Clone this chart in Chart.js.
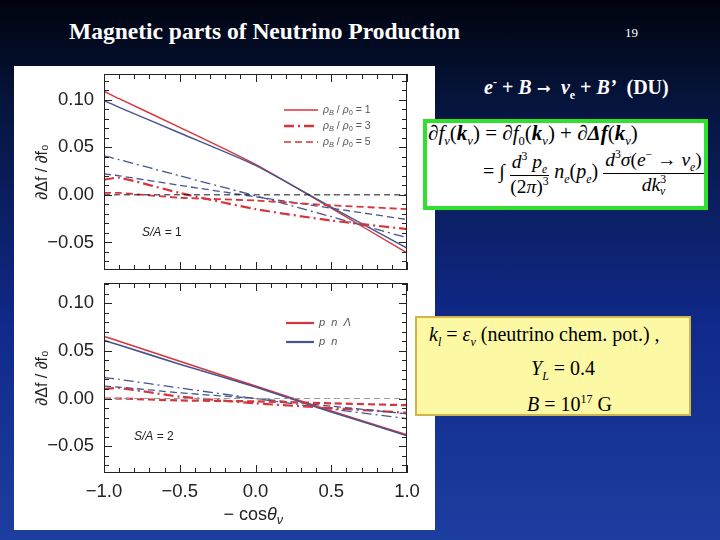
<!DOCTYPE html>
<html>
<head>
<meta charset="utf-8">
<script src="https://cdn.jsdelivr.net/npm/chart.js@4"></script>
<style>
  html, body { margin: 0; padding: 0; }
  body {
    width: 720px; height: 540px; overflow: hidden; position: relative;
    background: linear-gradient(to bottom, #01040f 0%, #06153f 20%, #10298a 60%, #1c3ea0 100%);
    font-family: "Liberation Serif", "Times New Roman", serif;
  }
  .abs { position: absolute; }
  #panel { left: 14px; top: 66px; width: 421px; height: 464px; background: #fff; }
  #cTop { left: 14px; top: 66px; }
  #cBot { left: 14px; top: 280px; }
  #title { left: 69px; top: 18px; color: #fff; font-size: 23.5px; font-weight: bold; white-space: nowrap; }
  #page { left: 625px; top: 25px; color: #fff; font-size: 13px; }
  #react { left: 484px; top: 75px; color: #fff; font-size: 20px; font-weight: bold; white-space: nowrap; }
  #greenBox { left: 423px; top: 119px; width: 277px; height: 83px; border: 4px solid #2fe02f; background: #fff; }
  #yellowBox { left: 415px; top: 316px; width: 272px; height: 96px; border: 2px solid #d2b548; background: #fcf8a4; }
  .eq { position: absolute; white-space: nowrap; color: #000; font-size: 20px; }
  .frac { display: inline-flex; flex-direction: column; align-items: center; vertical-align: middle; font-size: 19.5px; line-height: 1.0; }
  .frac .num { border-bottom: 1px solid #000; padding: 0 2px; }
  i { font-style: italic; }
  sub, sup { font-size: 60%; }
</style>
</head>
<body>
<div id="panel" class="abs"></div>
<canvas id="cTop" class="abs" width="421" height="206"></canvas>
<canvas id="cBot" class="abs" width="421" height="250"></canvas>

<div id="title" class="abs">Magnetic parts of Neutrino Production</div>
<div id="page" class="abs">19</div>
<div id="react" class="abs"><i>e</i><sup>-</sup> + <i>B</i> <span style="font-family:'DejaVu Sans';font-size:17px">➞</span>&nbsp; <i>ν</i><sub>e</sub> + <i>B’</i>&nbsp; (DU)</div>

<div id="greenBox" class="abs">
  <div class="eq" style="left:1px;top:-2px;font-size:21px;">∂<i>f</i><sub><i>ν</i></sub>(<b><i>k</i></b><sub><i>ν</i></sub>) = ∂<i>f</i><sub>0</sub>(<b><i>k</i></b><sub><i>ν</i></sub>) + ∂<b><i>Δf</i></b>(<b><i>k</i></b><sub><i>ν</i></sub>)</div>
  <div class="eq" style="left:56px;top:26px;">= ∫
    <span class="frac"><span class="num"><i>d</i><sup>3</sup> <i>p<sub>e</sub></i></span><span>(2<i>π</i>)<sup>3</sup></span></span>
    <i>n<sub>e</sub></i>(<i>p<sub>e</sub></i>)
    <span class="frac"><span class="num"><i>d</i><sup>3</sup><i>σ</i>(<i>e</i><sup>−</sup> → <i>ν<sub>e</sub></i>)</span><span><i>dk</i><sup>3</sup><sub style="margin-left:-6px"><i>ν</i></sub></span></span>
  </div>
</div>

<div id="yellowBox" class="abs">
  <div class="eq" style="left:12px;top:5px;"><i>k<sub>l</sub></i> = <i>ε<sub>ν</sub></i> (neutrino chem. pot.) ,</div>
  <div class="eq" style="left:114px;top:39px;"><i>Y<sub>L</sub></i> = 0.4</div>
  <div class="eq" style="left:110px;top:74px;"><i>B</i> = 10<sup>17</sup> G</div>
</div>

<script>
// x grid shared by all curves (- cos theta_nu)
const xs = [-1, -0.9, -0.5, 0, 0.5, 1];

// S/A = 1 panel
const redRho1 = [0.109, 0.101, 0.071, 0.032, -0.014, -0.061];
const blueRho1 = [0.099, 0.092, 0.065, 0.031, -0.013, -0.056];
const redRho3 = [0.016, 0.018, 0.002, -0.015, -0.027, -0.036];
const blueRho3 = [0.041, 0.037, 0.020, -0.001, -0.023, -0.045];
const redRho5 = [0.002, 0.002, -0.003, -0.006, -0.011, -0.015];
const blueRho5 = [0.022, 0.020, 0.010, -0.002, -0.014, -0.026];

// S/A = 2 panel
const redRho1b = [0.065, 0.060, 0.039, 0.013, -0.013, -0.038];
const blueRho1b = [0.061, 0.056, 0.036, 0.012, -0.014, -0.039];
const redRho3b = [0.010, 0.011, 0.002, -0.005, -0.010, -0.015];
const blueRho3b = [0.022, 0.020, 0.011, 0.000, -0.011, -0.021];
const redRho5b = [0.000, 0.000, -0.002, -0.003, -0.005, -0.007];
const blueRho5b = [0.013, 0.012, 0.006, 0.000, -0.008, -0.016];
const zeros = [0, 0, 0, 0, 0, 0];

const xTicks = [-1, -0.5, 0, 0.5, 1];
const yTicks = [-0.05, 0, 0.05, 0.10];
const legendRho = ['1', '3', '5'];
const legendModel = ['p  n  Λ', 'p  n'];

const RED = '#d8343c';
const BLUE = '#46558f';
const DASH = [7, 4];
const DASHDOT = [10, 4, 2, 4];

Chart.defaults.font.family = '"Liberation Sans", Arial, sans-serif';
Chart.defaults.color = '#222';

function ds(vals, color, dash, width) {
    return {
        data: xs.map((x, i) => ({ x: x, y: vals[i] })),
        borderColor: color, borderDash: dash, borderWidth: width,
        pointRadius: 0, fill: false, tension: 0.2
    };
}

function fmt(v) {
    const s = Math.abs(v).toFixed(2);
    return v < -1e-9 ? '\u2212' + s : s;
}

// draws text with subscripts: parts = [[text, isSub, italic], ...]
function rich(ctx, x, y, parts, size, color) {
    ctx.save();
    ctx.fillStyle = color;
    ctx.textBaseline = 'middle';
    ctx.textAlign = 'left';
    parts.forEach(p => {
        const fs = p[1] ? size * 0.7 : size;
        ctx.font = (p[2] ? 'italic ' : '') + fs + 'px "Liberation Sans", Arial, sans-serif';
        ctx.fillText(p[0], x, p[1] ? y + size * 0.3 : y);
        x += ctx.measureText(p[0]).width;
    });
    ctx.restore();
}

// frame with inward ticks on all four sides
const framePlugin = {
    id: 'frame',
    afterDatasetsDraw(chart) {
        const { ctx, chartArea: a, scales } = chart;
        ctx.save();
        ctx.strokeStyle = '#222';
        ctx.lineWidth = 1;
        ctx.strokeRect(a.left + 0.5, a.top + 0.5, a.right - a.left - 1, a.bottom - a.top - 1);
        ctx.beginPath();
        for (let k = -10; k <= 10; k++) {
            const px = Math.round(scales.x.getPixelForValue(k / 10)) + 0.5;
            const len = k % 5 === 0 ? 8 : 5;
            ctx.moveTo(px, a.bottom); ctx.lineTo(px, a.bottom - len);
            ctx.moveTo(px, a.top); ctx.lineTo(px, a.top + len);
        }
        for (let k = -7; k <= 12; k++) {
            const py = Math.round(scales.y.getPixelForValue(k / 100)) + 0.5;
            if (py < a.top || py > a.bottom) continue;
            const len = k % 5 === 0 ? 8 : 5;
            ctx.moveTo(a.left, py); ctx.lineTo(a.left + len, py);
            ctx.moveTo(a.right, py); ctx.lineTo(a.right - len, py);
        }
        ctx.stroke();

        const o = chart.options.plugins.frame;
        // legend
        o.legend.forEach((e, i) => {
            const y = a.top + o.legendTop + i * o.legendGap;
            const x0 = a.right - o.legendRight;
            ctx.beginPath();
            ctx.strokeStyle = e.color;
            ctx.lineWidth = e.width;
            ctx.setLineDash(e.dash);
            ctx.moveTo(x0, y); ctx.lineTo(x0 + o.legendLen, y);
            ctx.stroke();
            ctx.setLineDash([]);
            rich(ctx, x0 + o.legendLen + 5, y, e.parts, o.legendSize, '#555');
        });
        // S/A label
        rich(ctx, a.left + o.saX, a.top + o.saY, [['S/A', false, true], [' = ' + o.sa, false, false]], 12, '#222');
        // x title
        if (o.xTitle) {
            const cx = (a.left + a.right) / 2, cy = a.bottom + 42;
            rich(ctx, cx - 32, cy, [['\u2212 cos', false, false], ['\u03b8', false, true], ['\u03bd', true, true]], 18, '#222');
        }
        ctx.restore();
    }
};

function yAxis(min, max) {
    return {
        min: min, max: max,
        grid: { display: false, drawTicks: false },
        border: { display: false },
        afterBuildTicks: s => { s.ticks = yTicks.map(v => ({ value: v })); },
        afterFit: s => { s.width = 90; s.paddingTop = 0; s.paddingBottom = 0; },
        ticks: { padding: 10, font: { size: 18.5 }, color: '#222', callback: fmt },
        title: { display: true, text: '\u2202\u0394f / \u2202f\u2080', font: { size: 16 }, color: '#222', padding: { top: 19, bottom: 0 } }
    };
}

const rhoLegend = legendRho.map((r, i) => ({
    color: RED, dash: [[], DASHDOT, DASH][i], width: [1.5, 2.5, 1.5][i],
    parts: [['ρ', false, true], ['B', true, true], [' / ', false, false], ['ρ', false, true], ['0', true, false], [' = ' + r, false, false]]
}));

new Chart(document.getElementById('cTop'), {
    type: 'line',
    data: {
        datasets: [
            ds(zeros, '#111', [6, 4], 1),
            ds(redRho5, RED, DASH, 1.8),
            ds(blueRho5, BLUE, DASH, 1.3),
            ds(redRho3, RED, DASHDOT, 2.2),
            ds(blueRho3, BLUE, DASHDOT, 1.3),
            ds(blueRho1, BLUE, [], 1.4),
            ds(redRho1, RED, [], 1.4)
        ]
    },
    options: {
        responsive: false, animation: false,
        layout: { padding: { left: 0, right: 28, top: 8, bottom: 2 } },
        scales: {
            x: { type: 'linear', min: -1, max: 1, display: false },
            y: yAxis(-0.079, 0.127)
        },
        plugins: {
            legend: { display: false }, tooltip: { enabled: false },
            frame: { legend: rhoLegend, legendTop: 36, legendGap: 16, legendRight: 123, legendLen: 34, legendSize: 10.5, sa: '1', saX: 38, saY: 159 }
        }
    },
    plugins: [framePlugin]
});

new Chart(document.getElementById('cBot'), {
    type: 'line',
    data: {
        datasets: [
            ds(zeros, '#999', [6, 4], 1),
            ds(redRho5b, RED, DASH, 2.2),
            ds(blueRho5b, BLUE, DASH, 1.3),
            ds(redRho3b, RED, DASHDOT, 2.2),
            ds(blueRho3b, BLUE, DASHDOT, 1.3),
            ds(blueRho1b, BLUE, [], 1.6),
            ds(redRho1b, RED, [], 1.6)
        ]
    },
    options: {
        responsive: false, animation: false,
        layout: { padding: { left: 0, right: 28, top: 3, bottom: 0 } },
        scales: {
            x: {
                type: 'linear', min: -1, max: 1,
                grid: { display: false, drawTicks: false }, border: { display: false },
                afterBuildTicks: s => { s.ticks = xTicks.map(v => ({ value: v })); },
                afterFit: s => { s.height = 57; },
                ticks: { padding: 8, font: { size: 18.5 }, color: '#222', callback: v => fmt(v).replace(/(\.\d)0$/, '$1') }
            },
            y: yAxis(-0.078, 0.121)
        },
        plugins: {
            legend: { display: false }, tooltip: { enabled: false },
            frame: {
                legend: legendModel.map((t, i) => ({ color: [RED, BLUE][i], dash: [], width: 2.2, parts: [[t, false, true]] })),
                legendTop: 40, legendGap: 19, legendRight: 121, legendLen: 28, legendSize: 11,
                sa: '2', saX: 30, saY: 154, xTitle: true
            }
        }
    },
    plugins: [framePlugin]
});
</script>
</body>
</html>
